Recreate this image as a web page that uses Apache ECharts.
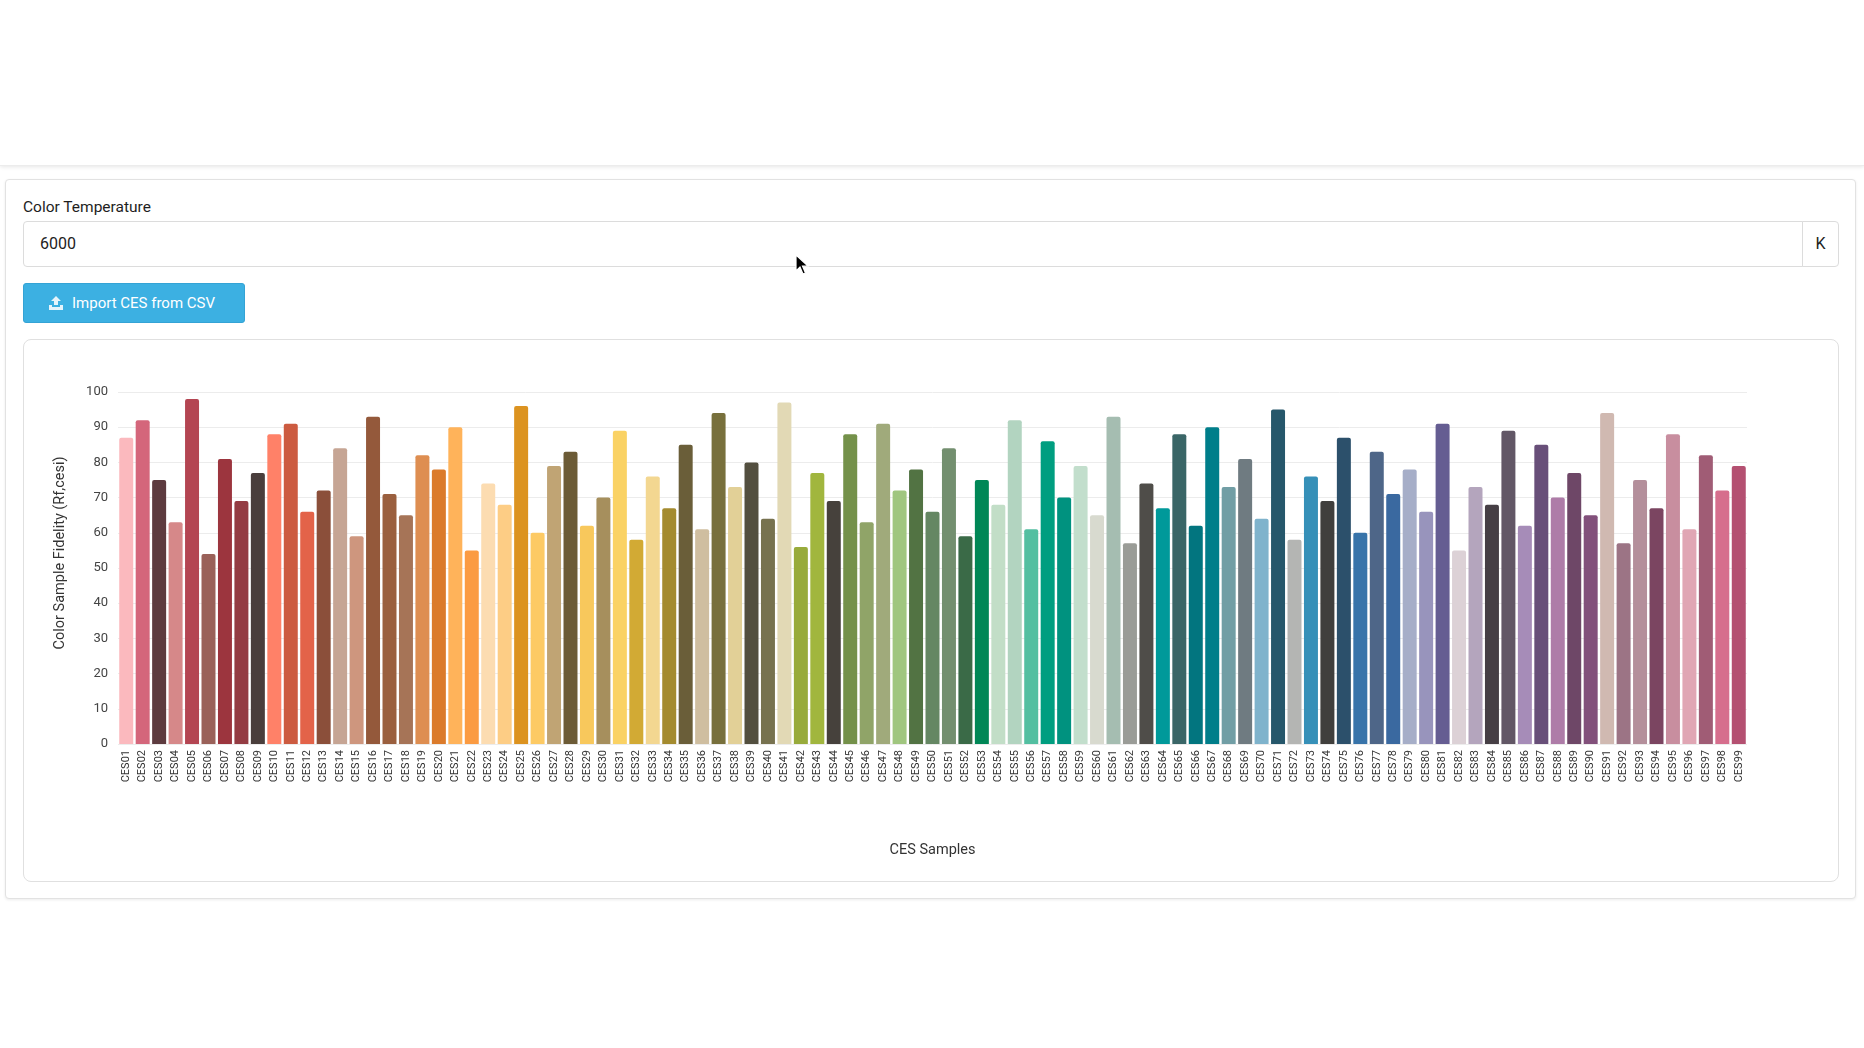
<!DOCTYPE html>
<html>
<head>
<meta charset="utf-8">
<title>CES Fidelity</title>
<script src="https://cdn.jsdelivr.net/npm/echarts@6/dist/echarts.min.js"></script>
<style>
  html, body { margin: 0; padding: 0; background: #fff; font-family: Roboto, "Noto Sans", Arial, sans-serif; }
  .topbar { position: absolute; left: 0; top: 0; width: 1864px; height: 166px; background: #fff;
            box-shadow: 0 1px 4px rgba(0,0,0,0.10); border-bottom: 1px solid #ececec; box-sizing: border-box; }
  .card { position: absolute; left: 5px; top: 179px; width: 1851px; height: 720px; box-sizing: border-box;
          border: 1px solid #e2e2e2; border-radius: 4px; box-shadow: 0 1px 3px rgba(0,0,0,0.08); background: #fff; }
  .lbl { position: absolute; left: 23px; top: 197px; font-size: 15.5px; line-height: 20px; font-weight: 400; color: #1e1e1e; }
  .inp { position: absolute; left: 23px; top: 221px; width: 1780px; height: 46px; box-sizing: border-box;
         border: 1px solid #dcdcdc; border-radius: 4px 0 0 4px; font-size: 16px; color: #222;
         padding-left: 16px; line-height: 44px; }
  .addon { position: absolute; left: 1802px; top: 221px; width: 37px; height: 46px; box-sizing: border-box;
           border: 1px solid #dcdcdc; border-radius: 0 4px 4px 0; font-size: 16px; color: #222;
           text-align: center; line-height: 44px; }
  .btn { position: absolute; left: 23px; top: 283px; width: 222px; height: 40px; box-sizing: border-box;
         background: #3cb0e2; border: 1px solid #34a3d5; border-radius: 3px; color: #fff;
         font-size: 15px; line-height: 38px; }
  .btn svg { position: absolute; left: 24px; top: 11px; }
  .btn span { position: absolute; left: 48px; top: 0; }
  .chartcard { position: absolute; left: 23px; top: 339px; width: 1816px; height: 543px; box-sizing: border-box;
               border: 1px solid #e0e0e0; border-radius: 8px; }
  #chart { position: absolute; left: 23px; top: 339px; width: 1816px; height: 543px; }
  .cursor { position: absolute; left: 795px; top: 254px; }
</style>
</head>
<body>
<div class="topbar"></div>
<div class="card"></div>
<div class="lbl">Color Temperature</div>
<div class="inp">6000</div>
<div class="addon">K</div>
<div class="btn">
  <svg width="16" height="16" viewBox="0 0 16 16">
    <path d="M8 1 L13 6 L10 6 L10 10 L6 10 L6 6 L3 6 Z" fill="#e6f4fb"/>
    <path d="M1 10 L4 10 L4 12 L12 12 L12 10 L15 10 L15 15 L1 15 Z" fill="#e6f4fb"/>
  </svg>
  <span>Import CES from CSV</span>
</div>
<div class="chartcard"></div>
<div id="chart"></div>
<svg class="cursor" width="14" height="22" viewBox="0 0 14 22">
  <path d="M1 1 L1 17 L5 13 L8 20 L10.5 19 L7.5 12 L13 12 Z" fill="#000" stroke="#fff" stroke-width="1.2"/>
</svg>

<script>
/* 샘플 이름 (x축 눈금) */
const sampleNames = [
  'CES01','CES02','CES03','CES04','CES05','CES06','CES07','CES08','CES09','CES10',
  'CES11','CES12','CES13','CES14','CES15','CES16','CES17','CES18','CES19','CES20',
  'CES21','CES22','CES23','CES24','CES25','CES26','CES27','CES28','CES29','CES30',
  'CES31','CES32','CES33','CES34','CES35','CES36','CES37','CES38','CES39','CES40',
  'CES41','CES42','CES43','CES44','CES45','CES46','CES47','CES48','CES49','CES50',
  'CES51','CES52','CES53','CES54','CES55','CES56','CES57','CES58','CES59','CES60',
  'CES61','CES62','CES63','CES64','CES65','CES66','CES67','CES68','CES69','CES70',
  'CES71','CES72','CES73','CES74','CES75','CES76','CES77','CES78','CES79','CES80',
  'CES81','CES82','CES83','CES84','CES85','CES86','CES87','CES88','CES89','CES90',
  'CES91','CES92','CES93','CES94','CES95','CES96','CES97','CES98','CES99'
];

/* Rf,cesi 값 */
const fidelityValues = [
  87, 92, 75, 63, 98, 54, 81, 69, 77, 88,
  91, 66, 72, 84, 59, 93, 71, 65, 82, 78,
  90, 55, 74, 68, 96, 60, 79, 83, 62, 70,
  89, 58, 76, 67, 85, 61, 94, 73, 80, 64,
  97, 56, 77, 69, 88, 63, 91, 72, 78, 66,
  84, 59, 75, 68, 92, 61, 86, 70, 79, 65,
  93, 57, 74, 67, 88, 62, 90, 73, 81, 64,
  95, 58, 76, 69, 87, 60, 83, 71, 78, 66,
  91, 55, 73, 68, 89, 62, 85, 70, 77, 65,
  94, 57, 75, 67, 88, 61, 82, 72, 79
];

/* y축 눈금 */
const yTicks = { min: 0, max: 100, step: 10 };

/* 각 샘플 색 (스타일) */
const barColors = [
  '#fbb9be','#d4667b','#5d3b3f','#d68889','#b44552','#9a6159','#9c353e','#943c43','#4a3e3c','#ff8168',
  '#cc5b40','#e36349','#8b4f3a','#c6a594','#ce967e','#94593b','#9a5f3e','#a67457','#de8e51','#db7b2b',
  '#ffb35a','#fb9b42','#fcdcb1','#fdcd85','#dc9320','#fdca64','#c0a474','#6c5b36','#f8c85c','#a68f5d',
  '#fad264','#d2aa34','#f3d791','#a48b2f','#6a5e39','#cfbea0','#78703c','#e2d097','#534f3f','#77724f',
  '#e2d9b5','#98ab3b','#a1b63e','#46413c','#74914a','#90a468','#a0aa7b','#a0c67f','#527343','#658763',
  '#738f6f','#3a6a47','#008756','#c2dec7','#b2d4c0','#53bfa1','#009e80','#00927f','#c2decc','#d8dacf',
  '#a5bdb1','#9a9c97','#4f4d49','#00999a','#3a6667','#02757f','#007e8a','#719ea5','#6f7b81','#7fb3cc',
  '#26576b','#b4b5b3','#3690b8','#403f3d','#2c506b','#3874aa','#4e6688','#3a69a0','#a6aec8','#9894bc',
  '#655d92','#dcd1d6','#b4a5bd','#463f45','#625766','#a68cb8','#684f79','#ae7ca8','#6e4767','#82507b',
  '#d0b9b1','#9c7485','#b48f9b','#7b4561','#c88e9f','#e0a6b4','#a05c75','#d66e8d','#b45071'
];

const chart = echarts.init(document.getElementById('chart'), null, { renderer: 'canvas' });

chart.setOption({
  animation: false,
  textStyle: { fontFamily: 'Roboto, "Noto Sans", Arial, sans-serif' },
  grid: { left: 95, right: 92, top: 53, bottom: 138, containLabel: false },
  xAxis: {
    type: 'category',
    data: sampleNames,
    name: 'CES Samples',
    nameLocation: 'middle',
    nameGap: 99,
    nameTextStyle: { fontSize: 14.5, color: '#333' },
    axisLine: { show: false },
    axisTick: { show: false },
    axisLabel: { interval: 0, rotate: 90, fontSize: 11, color: '#333', margin: 6 }
  },
  yAxis: {
    type: 'value',
    min: yTicks.min,
    max: yTicks.max,
    interval: yTicks.step,
    name: 'Color Sample Fidelity (Rf,cesi)',
    nameLocation: 'middle',
    nameGap: 50,
    nameTextStyle: { fontSize: 14.5, color: '#333', padding: [0, 0, 0, 30] },
    axisLine: { show: false },
    axisTick: { show: false },
    axisLabel: { fontSize: 13, color: '#444', margin: 10 },
    splitLine: { lineStyle: { color: '#ececec', width: 1 } }
  },
  series: [{
    type: 'bar',
    barCategoryGap: '15%',
    data: fidelityValues.map((v, i) => ({
      value: v,
      itemStyle: { color: barColors[i], borderRadius: [2, 2, 0, 0] }
    }))
  }]
});
</script>
</body>
</html>
